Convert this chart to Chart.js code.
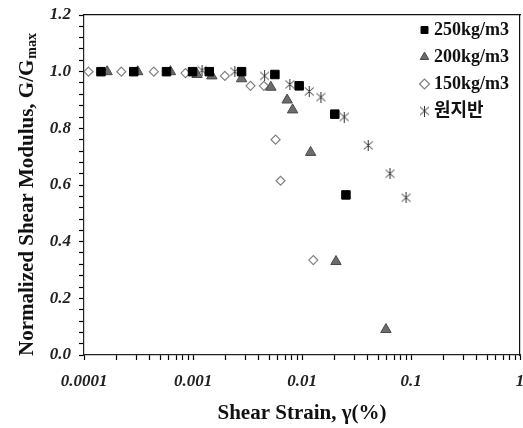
<!DOCTYPE html>
<html>
<head>
<meta charset="utf-8">
<script src="https://cdn.jsdelivr.net/npm/chart.js@4.4.1/dist/chart.umd.min.js"></script>
<style>
  html, body { margin: 0; padding: 0; background: #fff; }
  #wrap { width: 523px; height: 428px; }
</style>
</head>
<body>
<div id="wrap"><canvas id="chart" width="523" height="428"></canvas></div>
<script>
// Values
const SERIES_LABELS = ['250kg/m3', '200kg/m3', '150kg/m3', '원지반']

const STRAIN_250 = [0.000143, 0.000286, 0.000571, 0.00099, 0.00141, 0.00279, 0.00564, 0.00942, 0.0200, 0.0253]
const G_250 = [1.0, 1.0, 1.0, 1.0, 1.0, 1.0, 0.99, 0.95, 0.85, 0.565]

const STRAIN_200 = [0.000163, 0.000311, 0.000621, 0.00109, 0.00149, 0.00279, 0.00518, 0.00731, 0.0082, 0.012, 0.0205, 0.0589]
const G_200 = [1.0, 1.0, 1.0, 0.99, 0.985, 0.975, 0.945, 0.9, 0.865, 0.715, 0.33, 0.09]

const STRAIN_150 = [0.00011, 0.00022, 0.000437, 0.000853, 0.00196, 0.00337, 0.00447, 0.00572, 0.00636, 0.0127]
const G_150 = [1.0, 1.0, 1.0, 0.995, 0.985, 0.95, 0.95, 0.76, 0.615, 0.335]

const STRAIN_SITE = [0.00121, 0.00242, 0.00454, 0.00774, 0.01165, 0.0149, 0.0244, 0.0405, 0.0641, 0.09]
const G_SITE = [1.005, 1.0, 0.985, 0.955, 0.93, 0.91, 0.84, 0.74, 0.64, 0.555]

const X_TICKS = [0.0001, 0.001, 0.01, 0.1, 1]
const X_TICK_LABELS = ['0.0001', '0.001', '0.01', '0.1', '1']
const Y_TICKS = [0, 0.2, 0.4, 0.6, 0.8, 1.0, 1.2]
const Y_MINOR_STEP = 0.04

const SERIF = '"Times New Roman", "Liberation Serif", "Noto Sans CJK KR", serif'
const AXIS_COLOR = '#222'

const toPoints = (xs, ys) => xs.map((x, i) => ({ x, y: ys[i] }))
const near = (a, b) => Math.abs(a - b) <= Math.abs(b) * 1e-6 + 1e-9

// asterisk marker (X with a vertical stroke)
function makeAsterisk(size) {
  const c = document.createElement('canvas')
  c.width = size
  c.height = size
  const g = c.getContext('2d')
  g.strokeStyle = '#333'
  g.lineWidth = 1
  g.beginPath()
  g.moveTo(1, 1.5); g.lineTo(size - 1, size - 1.5)
  g.moveTo(size - 1, 1.5); g.lineTo(1, size - 1.5)
  g.moveTo(size / 2, 0); g.lineTo(size / 2, size)
  g.stroke()
  return c
}

const asterisk = makeAsterisk(11)

// decade ticks plus the 2..9 minor ticks in between
function xTickValues() {
  const out = []
  X_TICKS.forEach((d, i) => {
    out.push({ value: d })
    if (i < X_TICKS.length - 1) {
      for (let k = 2; k <= 9; k++) out.push({ value: d * k })
    }
  })
  return out
}

function yTickValues(s) {
  const n = Math.round((s.max - s.min) / Y_MINOR_STEP)
  const out = []
  for (let i = 0; i <= n; i++) out.push({ value: +(s.min + i * Y_MINOR_STEP).toFixed(4) })
  return out
}

// y axis title with the "max" subscript
const yTitle = {
  id: 'yTitle',
  afterDraw(chart) {
    const ctx = chart.ctx
    const main = 'Normalized Shear Modulus, G/G'
    const sub = 'max'
    ctx.save()
    ctx.fillStyle = '#111'
    ctx.textBaseline = 'alphabetic'
    ctx.textAlign = 'left'
    ctx.font = 'bold 21px ' + SERIF
    const wMain = ctx.measureText(main).width
    ctx.font = 'bold 14px ' + SERIF
    const wSub = ctx.measureText(sub).width
    ctx.translate(33, 195)
    ctx.rotate(-Math.PI / 2)
    const x0 = -(wMain + wSub) / 2
    ctx.font = 'bold 21px ' + SERIF
    ctx.fillText(main, x0, 0)
    ctx.font = 'bold 14px ' + SERIF
    ctx.fillText(sub, x0 + wMain + 1, 3)
    ctx.restore()
  }
}

// place the legend inside the plot, top right
const legendInside = {
  id: 'legendInside',
  afterLayout(chart) {
    const lg = chart.legend
    if (!lg) return
    const w = lg.width
    const h = lg.height
    lg.left = 415
    lg.right = lg.left + w
    lg.top = 12
    lg.bottom = lg.top + h
  }
}

const tickFont = { family: SERIF, size: 17, weight: 'bold', style: 'italic' }
const tickGrid = { display: true, drawOnChartArea: false, drawTicks: true, tickLength: 5, tickColor: '#000', tickWidth: 1.2, color: '#000' }

new Chart(document.getElementById('chart'), {
  type: 'scatter',
  data: {
    datasets: [
      {
        label: SERIES_LABELS[0],
        data: toPoints(STRAIN_250, G_250),
        pointStyle: 'rect',
        pointRadius: 6,
        backgroundColor: '#000',
        borderColor: '#000',
        borderWidth: 1,
      },
      {
        label: SERIES_LABELS[1],
        data: toPoints(STRAIN_200, G_200),
        pointStyle: 'triangle',
        pointRadius: 6,
        backgroundColor: '#6c6c6c',
        borderColor: '#4a4a4a',
        borderWidth: 1,
      },
      {
        label: SERIES_LABELS[2],
        data: toPoints(STRAIN_150, G_150),
        pointStyle: 'rectRot',
        pointRadius: 4.5,
        backgroundColor: '#fff',
        borderColor: '#808080',
        borderWidth: 1.2,
      },
      {
        label: SERIES_LABELS[3],
        data: toPoints(STRAIN_SITE, G_SITE),
        pointStyle: asterisk,
        backgroundColor: '#fff',
        borderColor: '#333',
      },
    ],
  },
  options: {
    responsive: false,
    devicePixelRatio: 1,
    animation: false,
    layout: { autoPadding: false, padding: { top: 15, right: 3, left: 0, bottom: 0 } },
    plugins: {
      tooltip: { enabled: false },
      legend: {
        position: 'chartArea',
        align: 'start',
        labels: {
          usePointStyle: true,
          boxWidth: 1,
          boxHeight: 7,
          padding: 9,
          color: '#111',
          font: { family: SERIF, size: 18, weight: 'bold' },
        },
      },
    },
    scales: {
      x: {
        type: 'logarithmic',
        min: 0.0001,
        max: 1,
        afterBuildTicks: (s) => { s.ticks = xTickValues() },
        afterFit: (s) => { s.height = 73; s.paddingLeft = 0; s.paddingRight = 0 },
        grid: tickGrid,
        border: { display: true, color: AXIS_COLOR, width: 1.2 },
        ticks: {
          autoSkip: false,
          minRotation: 0,
          maxRotation: 0,
          padding: 11,
          color: '#222',
          font: tickFont,
          callback: (v) => {
            const i = X_TICKS.findIndex((t) => near(v, t))
            return i >= 0 ? X_TICK_LABELS[i] : ''
          },
        },
        title: {
          display: true,
          text: 'Shear Strain, γ(%)',
          color: '#111',
          padding: { top: 0, bottom: 2 },
          font: { family: SERIF, size: 21, weight: 'bold' },
        },
      },
      y: {
        min: 0,
        max: 1.2,
        afterBuildTicks: (s) => { s.ticks = yTickValues(s) },
        afterFit: (s) => { s.width = 84; s.paddingTop = 0; s.paddingBottom = 0 },
        grid: tickGrid,
        border: { display: true, color: AXIS_COLOR, width: 1.2 },
        ticks: {
          autoSkip: false,
          padding: 8,
          color: '#222',
          font: tickFont,
          callback: (v) => (Y_TICKS.some((t) => near(v, t)) ? v.toFixed(1) : ''),
        },
      },
      // plain axes on top and right only to close the frame
      xTop: {
        type: 'linear',
        position: 'top',
        display: true,
        min: 0,
        max: 1,
        afterFit: (s) => { s.height = 0; s.paddingLeft = 0; s.paddingRight = 0 },
        grid: { display: false, drawTicks: false },
        ticks: { display: false },
        border: { display: true, color: '#111', width: 1.2 },
      },
      yRight: {
        type: 'linear',
        position: 'right',
        display: true,
        min: 0,
        max: 1,
        afterFit: (s) => { s.width = 0; s.paddingTop = 0; s.paddingBottom = 0 },
        grid: { display: false, drawTicks: false },
        ticks: { display: false },
        border: { display: true, color: '#111', width: 1.2 },
      },
    },
  },
  plugins: [yTitle, legendInside],
})
</script>
</body>
</html>
